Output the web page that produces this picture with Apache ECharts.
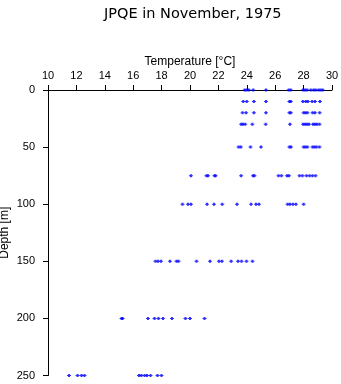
<!DOCTYPE html>
<html>
<head>
<meta charset="utf-8">
<title>JPQE in November, 1975</title>
<script src="https://cdn.jsdelivr.net/npm/echarts@6/dist/echarts.min.js"></script>
<style>
  html, body { margin: 0; padding: 0; background: #fff; }
  #chart { width: 341px; height: 384px; }
</style>
</head>
<body>
<div id="chart"></div>
<script>
// Temperature profile samples (°C) grouped by sampling depth (m)
const depthLevels = [0, 10, 20, 30, 50, 75, 100, 150, 200, 250];

const temps0   = [23.85, 24.0, 24.15, 24.45, 25.35, 26.95, 27.1, 27.95, 28.1, 28.25, 28.5, 28.7, 28.85, 29.05, 29.2, 29.35];
const temps10  = [23.75, 24.0, 24.5, 25.35, 27.0, 27.1, 27.95, 28.15, 28.3, 28.6, 28.8, 29.15];
const temps20  = [23.7, 23.95, 24.5, 25.35, 27.0, 27.1, 28.0, 28.13, 28.27, 28.63, 28.8, 29.13];
const temps30  = [23.6, 23.73, 23.89, 24.39, 25.33, 27.04, 27.96, 28.1, 28.24, 28.38, 28.66, 28.8, 28.94, 29.12];
const temps50  = [23.42, 23.58, 24.26, 25.0, 27.0, 27.11, 28.0, 28.13, 28.27, 28.63, 28.77, 28.91, 29.12];
const temps75  = [20.07, 21.16, 21.27, 21.73, 21.8, 23.6, 24.44, 24.54, 26.23, 26.44, 26.83, 26.97, 27.71, 27.92, 28.2, 28.42, 28.63, 28.84];
const temps100 = [19.47, 19.86, 20.07, 21.2, 21.69, 22.27, 23.31, 24.3, 24.65, 24.86, 26.87, 27.04, 27.25, 27.46, 28.0];
const temps150 = [17.57, 17.75, 17.96, 18.59, 19.05, 19.19, 20.46, 21.41, 22.04, 22.25, 22.9, 23.38, 23.63, 23.98, 24.4];
const temps200 = [15.18, 15.25, 17.04, 17.5, 17.78, 18.1, 18.73, 19.68, 20.0, 21.02];
const temps250 = [11.48, 12.08, 12.36, 12.57, 16.41, 16.58, 16.8, 16.97, 17.22, 17.71, 17.99];

const tempsByDepth = [temps0, temps10, temps20, temps30, temps50, temps75, temps100, temps150, temps200, temps250];

// Axis ticks
const tempTicks = { min: 10, max: 30, step: 2 };
const depthTicks = { min: 0, max: 250, step: 50 };

// [temperature, depth] pairs for the scatter series
const points = [];
tempsByDepth.forEach((list, i) => {
  list.forEach(t => points.push([t, depthLevels[i]]));
});

const FONT = 'Liberation Sans, Arial, sans-serif';

const chart = echarts.init(document.getElementById('chart'), null, { renderer: 'canvas' });
chart.setOption({
  animation: false,
  backgroundColor: '#ffffff',
  title: {
    text: 'JPQE in November, 1975',
    left: 99,
    top: 2,
    textStyle: { fontFamily: 'DejaVu Sans', fontSize: 14.5, fontWeight: 'normal', color: '#000' }
  },
  grid: { left: 48, top: 90, width: 284, height: 285.5, containLabel: false, outerBoundsMode: 'none' },
  xAxis: {
    type: 'value',
    position: 'top',
    min: tempTicks.min,
    max: tempTicks.max,
    interval: tempTicks.step,
    name: 'Temperature [°C]',
    nameLocation: 'middle',
    nameGap: 22,
    nameMoveOverlap: false,
    nameTextStyle: { fontFamily: FONT, fontSize: 12, color: '#000' },
    axisLine: { show: true, lineStyle: { color: '#000', width: 1 } },
    axisTick: { show: true, inside: false, length: 5, lineStyle: { color: '#000' } },
    axisLabel: { fontFamily: FONT, fontSize: 11, color: '#000', margin: 9 },
    splitLine: { show: false }
  },
  yAxis: {
    type: 'value',
    inverse: true,
    min: depthTicks.min,
    max: depthTicks.max,
    interval: depthTicks.step,
    name: 'Depth [m]',
    nameLocation: 'middle',
    nameRotate: 90,
    nameGap: 37,
    nameMoveOverlap: false,
    nameTextStyle: { fontFamily: FONT, fontSize: 12, color: '#000' },
    axisLine: { show: true, lineStyle: { color: '#000', width: 1 } },
    axisTick: { show: true, inside: false, length: 5, lineStyle: { color: '#000' } },
    axisLabel: { fontFamily: FONT, fontSize: 11, color: '#000', margin: 13 },
    splitLine: { show: false }
  },
  series: [{
    type: 'scatter',
    data: points,
    symbol: 'path://M1,0H3V1H4V2H3V3H1V2H0V1H1Z',
    symbolSize: [4, 3],
    itemStyle: { color: '#0000ff' },
    emphasis: { disabled: true }
  }]
});
</script>
</body>
</html>
